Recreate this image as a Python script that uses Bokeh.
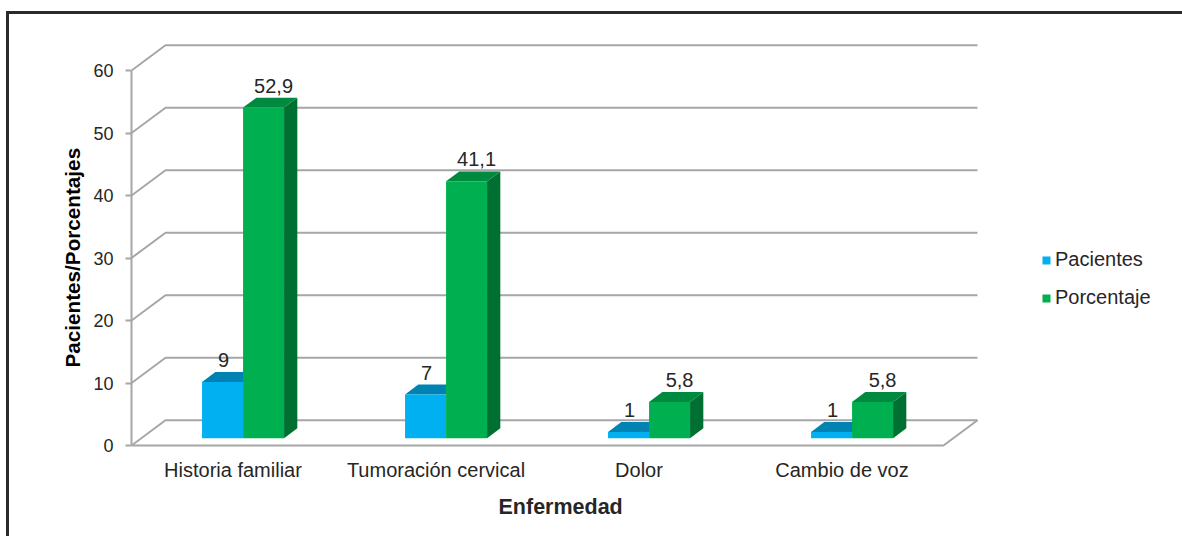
from bokeh.core.properties import value
from bokeh.embed import file_html
from bokeh.models import FixedTicker, Legend, LegendItem, Title
from bokeh.plotting import figure
from bokeh.resources import INLINE

categories = ["Historia familiar", "Tumoración cervical", "Dolor", "Cambio de voz"]
pacientes = [9, 7, 1, 1]
porcentaje = [52.9, 41.1, 5.8, 5.8]
y_ticks = [0, 10, 20, 30, 40, 50, 60]

FONT = "Liberation Sans"
GREY = "#a6a6a6"
TEXT = "#262626"

# Oblique projection of the 3D box: a unit of depth moves a point by these amounts.
DEPTH_X = 34 / 203
DEPTH_Y = 4.05
BAR_W = 41 / 203
GAP = 0.299
DEPTH_FRONT = 0.29
DEPTH_BAR = 0.39

# The dark top and left rules of the page are the borders of the plot's own box.
p = figure(
    width=1176, height=525, output_backend="svg", toolbar_location=None,
    x_range=(0, 1054 / 203), y_range=(-6 / 6.25, 431 / 6.25),
    min_border_left=122, min_border_right=0, min_border_top=0, min_border_bottom=88,
    background_fill_color="white", border_fill_color="white", outline_line_color=None,
    margin=(11, 0, 0, 6),
    styles={"border-top": "3px solid #2b2b2b", "border-left": "3px solid #2b2b2b"},
)
p.grid.visible = False


def project(x, y, depth):
    return x + depth * DEPTH_X, y + depth * DEPTH_Y


# Walls and floor of the box
n = len(categories)
for tick in y_ticks:
    x0, y0 = project(0, tick, 0)
    x1, y1 = project(0, tick, 1)
    x2, y2 = project(n, tick, 1)
    p.line([x0, x1, x2], [y0, y1, y2], line_color=GREY, line_width=2)
fx, fy = project(n, 0, 0)
bx, by = project(n, 0, 1)
p.line([0, fx, bx], [0, fy, by], line_color=GREY, line_width=2)


def draw_series(values, offset, front, top, side, side_visible, label_shift):
    lefts, rights, bottoms, tops = [], [], [], []
    top_xs, top_ys, side_xs, side_ys = [], [], [], []
    for i, v in enumerate(values):
        l, b = project(i + GAP + offset * BAR_W, 0, DEPTH_FRONT)
        r, t = l + BAR_W, b + v
        lefts.append(l); rights.append(r); bottoms.append(b); tops.append(t)
        dx, dy = DEPTH_BAR * DEPTH_X, DEPTH_BAR * DEPTH_Y
        top_xs.append([l, l + dx, r + dx, r])
        top_ys.append([t, t + dy, t + dy, t])
        side_xs.append([r, r + dx, r + dx, r])
        side_ys.append([b, b + dy, t + dy, t])
    if side_visible:
        p.patches(side_xs, side_ys, fill_color=side, line_color=None)
    p.patches(top_xs, top_ys, fill_color=top, line_color=None)
    bars = p.quad(left=lefts, right=rights, bottom=bottoms, top=tops,
                  fill_color=front, line_color=None)
    labels = [str(v).replace(".", ",") for v in values]
    p.text([l + BAR_W / 2 for l in lefts], [t + DEPTH_BAR * DEPTH_Y for t in tops], text=labels,
           text_font=value(FONT), text_font_size="20px", text_color=TEXT,
           text_align="center", text_baseline="alphabetic", x_offset=label_shift, y_offset=-12)
    return bars


blue = draw_series(pacientes, 0, "#00b0f0", "#0083b3", "#006f9a", False, 1)
green = draw_series(porcentaje, 1, "#00b050", "#008a3f", "#006f32", True, 10)

# Axes
xa = p.xaxis[0]
xa.bounds = (0, 4)
xa.ticker = FixedTicker(ticks=[i + 0.5 for i in range(n)])
xa.major_label_overrides = {i + 0.5: c for i, c in enumerate(categories)}
xa.axis_line_color = None
xa.major_tick_line_color = None
xa.minor_tick_line_color = None
xa.major_label_standoff = 1
xa.major_label_text_font = FONT
xa.major_label_text_font_size = "20px"
xa.major_label_text_color = TEXT

ya = p.yaxis[0]
ya.bounds = (0, 60)
ya.ticker = FixedTicker(ticks=y_ticks)
ya.axis_line_color = GREY
ya.axis_line_width = 2
ya.major_tick_line_color = GREY
ya.major_tick_line_width = 2
ya.major_tick_out = 6
ya.major_tick_in = 0
ya.minor_tick_line_color = None
ya.major_label_standoff = 12
ya.major_label_text_font = FONT
ya.major_label_text_font_size = "18px"
ya.major_label_text_color = TEXT

# Axis titles as side panels, so they can sit off the centre of the plot area
p.add_layout(Title(
    text="Pacientes/Porcentajes", align="left", offset=84, standoff=13,
    text_font=FONT, text_font_size="20.7px", text_font_style="bold", text_color="#000000",
), "left")
p.add_layout(Title(
    text="Enfermedad", align="left", offset=367, standoff=19,
    text_font=FONT, text_font_size="21.5px", text_font_style="bold", text_color=TEXT,
), "below")

# Legend placed to the right of the box
legend = Legend(
    items=[LegendItem(label="Pacientes", renderers=[blue]), LegendItem(label="Porcentaje", renderers=[green])],
    location=(910, 142), orientation="vertical", border_line_color=None, background_fill_alpha=0,
    glyph_width=10, glyph_height=10, label_standoff=4, spacing=15, padding=0, margin=0,
    label_text_font=FONT, label_text_font_size="20px", label_text_color=TEXT,
)
p.add_layout(legend)

open("out.html", "w").write(file_html(p, INLINE))
